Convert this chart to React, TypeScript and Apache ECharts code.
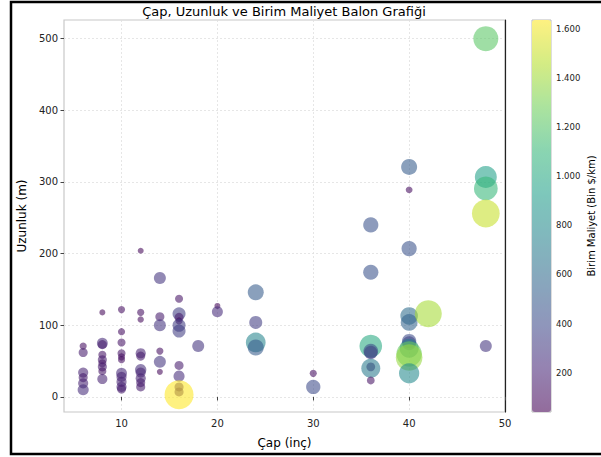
import React, { useEffect, useRef } from "react";
import * as echarts from "echarts";

// Çap (inç)
const capInc = [
  6, 6, 6, 6, 6, 6,
  8, 8, 8, 8, 8, 8, 8, 8, 8,
  10, 10, 10, 10, 10, 10, 10, 10, 10, 10, 10,
  12, 12, 12, 12, 12, 12, 12, 12, 12, 12,
  14, 14, 14, 14, 14, 14,
  16, 16, 16, 16, 16, 16, 16, 16, 16, 16, 16,
  18, 20, 20,
  24, 24, 24, 24,
  30, 30,
  36, 36, 36, 36, 36, 36, 36, 36,
  40, 40, 40, 40, 40, 40, 40, 40, 40, 40, 40,
  42,
  48, 48, 48, 48, 48,
];
// Uzunluk (m)
const uzunlukM = [
  71, 62, 34, 27, 19, 10,
  118, 75, 73, 59, 52, 47, 42, 36, 25,
  122, 91, 76, 61, 56, 52, 33, 28, 21, 14, 11,
  204, 118, 108, 61, 57, 38, 34, 26, 20, 14,
  166, 112, 100, 64, 49, 35,
  137, 116, 111, 106, 100, 92, 44, 29, 14, 7, 3,
  71, 127, 119,
  146, 104, 76, 69,
  33, 14,
  240, 174, 71, 64, 62, 42, 40, 23,
  321, 289, 207, 113, 104, 78, 75, 68, 60, 55, 33,
  116,
  500, 307, 291, 256, 71,
];
// Birim Maliyet (Bin $/km)
const maliyet = [
  100, 160, 200, 160, 200, 240,
  70, 230, 160, 125, 160, 125, 160, 125, 200,
  100, 100, 125, 125, 100, 100, 230, 200, 200, 200, 160,
  70, 100, 80, 200, 160, 250, 200, 200, 160, 160,
  280, 160, 280, 100, 280, 70,
  125, 330, 160, 100, 330, 330, 160, 240, 160, 160, 1636,
  280, 70, 235,
  500, 330, 760, 500,
  100, 400,
  450, 450, 1000, 420, 350, 150, 700, 120,
  500, 90, 450, 600, 550, 400, 380, 700, 1250, 1380, 800,
  1420,
  1216, 940, 1100, 1500, 280,
];

const xTicks = [10, 20, 30, 40, 50];
const yTicks = [0, 100, 200, 300, 400, 500];
const cbarTicks = [200, 400, 600, 800, 1000, 1200, 1400, 1600];

const viridis = [
  "#440154", "#482878", "#3e4a89", "#31688e", "#26828e",
  "#1f9e89", "#35b779", "#6ece58", "#b5de2b", "#fde725",
];

const ALPHA = 0.58;
function blend(hex: string, a: number): string {
  const r = parseInt(hex.slice(1, 3), 16);
  const g = parseInt(hex.slice(3, 5), 16);
  const b = parseInt(hex.slice(5, 7), 16);
  const f = (c: number) => Math.round(c * a + 255 * (1 - a));
  return `rgb(${f(r)},${f(g)},${f(b)})`;
}

function fmtTR(v: number): string {
  if (v >= 1000) {
    return Math.floor(v / 1000) + "." + String(v % 1000).padStart(3, "0");
  }
  return String(v);
}

const FONT = "DejaVu Sans";

export default function App() {
  const ref = useRef<HTMLDivElement>(null);
  useEffect(() => {
    if (!ref.current) return;
    const chart = echarts.init(ref.current, undefined, { renderer: "svg" });
    const data = capInc.map((x, i) => [x, uzunlukM[i], maliyet[i]]);
    const cMin = 40;
    const cMax = 1636;
    chart.setOption({
      animation: false,
      backgroundColor: "#fff",
      textStyle: { fontFamily: FONT },
      title: {
        text: "Çap, Uzunluk ve Birim Maliyet Balon Grafiği",
        left: 284,
        top: 5,
        padding: 0,
        textAlign: "center",
        textStyle: { fontFamily: FONT, fontSize: 13, fontWeight: "normal", color: "#000" },
      },
      graphic: [
        {
          type: "rect",
          silent: true,
          z: 100,
          shape: { x: 11, y: 2, width: 620, height: 452 },
          style: { fill: "none", stroke: "#000", lineWidth: 2.5 },
        },
      ],
      grid: [
        {
          left: 64, top: 20, width: 441, height: 392,
          show: true, borderColor: "#c8c8c8", borderWidth: 1.2,
          backgroundColor: "transparent",
        },
        {
          left: 532, top: 20, width: 19, height: 392,
          show: true, borderColor: "#bbb", borderWidth: 1,
          backgroundColor: "transparent",
        },
      ],
      xAxis: [
        {
          type: "value", gridIndex: 0, min: 4, max: 50, splitNumber: 5,
          name: "Çap (inç)", nameLocation: "middle", nameGap: 25,
          nameTextStyle: { fontFamily: FONT, fontSize: 12, color: "#000" },
          axisLine: { show: false },
          axisTick: { show: true, length: 3.5, lineStyle: { color: "#444" }, customValues: xTicks },
          axisLabel: {
            fontFamily: FONT, fontSize: 10, color: "#222", margin: 6,
            customValues: xTicks,
            formatter: (v: number) => (xTicks.includes(v) ? String(v) : ""),
          },
          splitLine: { show: true, lineStyle: { color: "#e0e0e0", type: [2, 2], width: 0.8 } },
        },
        { type: "value", gridIndex: 1, show: false, min: 0, max: 1 },
      ],
      yAxis: [
        {
          type: "value", gridIndex: 0, min: -21, max: 526, splitNumber: 5,
          name: "Uzunluk (m)", nameLocation: "middle", nameGap: 35, nameRotate: 90,
          nameTextStyle: { fontFamily: FONT, fontSize: 12, color: "#000" },
          axisLine: { show: false },
          axisTick: { show: true, length: 3.5, lineStyle: { color: "#444" }, customValues: yTicks },
          axisLabel: {
            fontFamily: FONT, fontSize: 10, color: "#222", margin: 6,
            customValues: yTicks,
            formatter: (v: number) => (yTicks.includes(v) ? String(v) : ""),
          },
          splitLine: { show: true, lineStyle: { color: "#e0e0e0", type: [2, 2], width: 0.8 } },
        },
        {
          type: "value", gridIndex: 0, position: "right", min: -21, max: 526,
          axisLine: { show: true, lineStyle: { color: "#222", width: 1.2 } },
          axisTick: { show: false }, axisLabel: { show: false }, splitLine: { show: false },
        },
        {
          type: "value", gridIndex: 1, position: "right", min: cMin, max: cMax, splitNumber: 8,
          name: "Birim Maliyet (Bin $/km)", nameLocation: "middle", nameGap: 35, nameRotate: 90,
          nameTextStyle: { fontFamily: FONT, fontSize: 10, color: "#000" },
          axisLine: { show: false },
          axisTick: { show: true, length: 3, lineStyle: { color: "#444" }, customValues: cbarTicks },
          axisLabel: {
            fontFamily: FONT, fontSize: 8.5, color: "#222", margin: 5,
            customValues: cbarTicks,
            formatter: (v: number) => (cbarTicks.includes(v) ? fmtTR(v) : ""),
          },
          splitLine: { show: false },
        },
      ],
      visualMap: {
        type: "continuous",
        min: cMin, max: cMax, dimension: 2, seriesIndex: 0,
        left: 532, top: 20, itemWidth: 19, itemHeight: 392, padding: 0,
        calculable: false, hoverLink: false, showLabel: false, text: ["", ""],
        inRange: { color: viridis },
        controller: { inRange: { color: viridis.map((c) => blend(c, ALPHA)) } },
      },
      series: [
        {
          type: "scatter",
          xAxisIndex: 0, yAxisIndex: 0,
          data,
          symbolSize: (v: number[]) => Math.sqrt(v[2]) * 0.717,
          itemStyle: { opacity: ALPHA },
          emphasis: { disabled: true },
        },
      ],
    });
    return () => chart.dispose();
  }, []);
  return (
    <div
      ref={ref}
      style={{ position: "fixed", left: 0, top: 0, width: 601, height: 457, background: "#fff" }}
    />
  );
}
